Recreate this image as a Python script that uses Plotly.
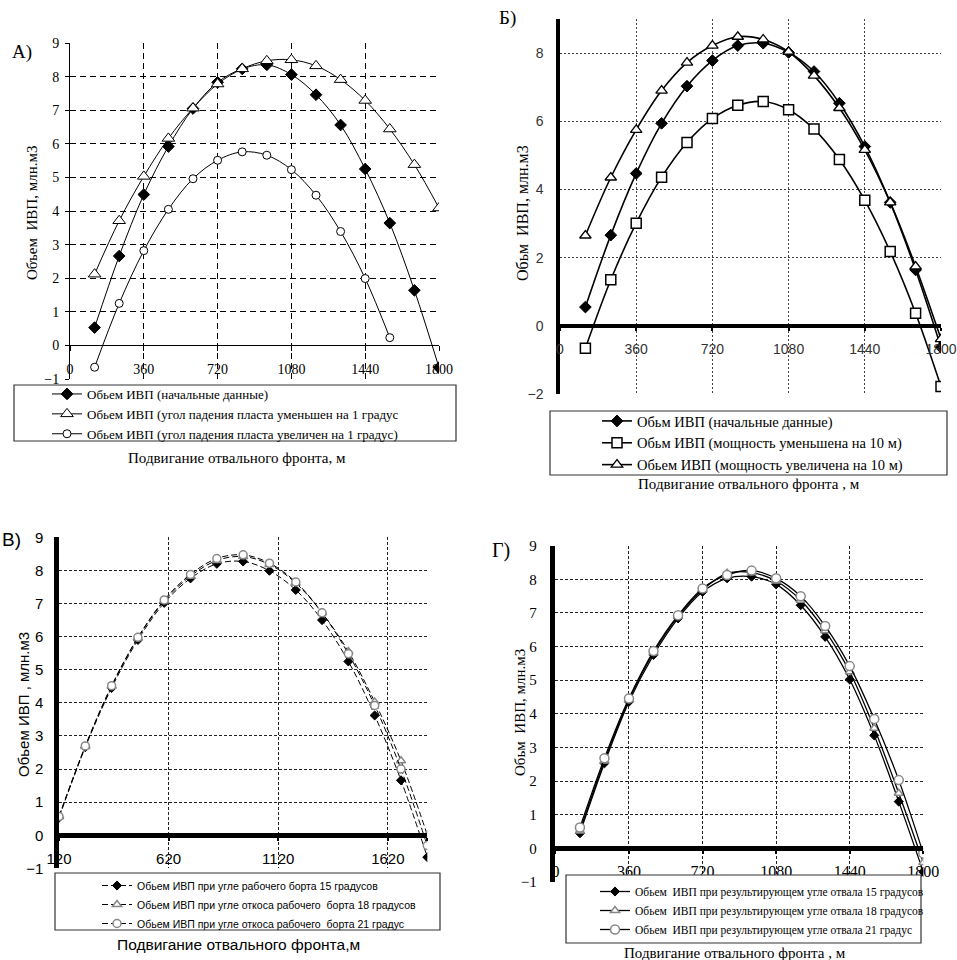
import plotly.graph_objects as go

W, H = 957, 960

def fx(px):
    return px / W

def fy(py):
    return 1 - py / H

# ---------------- data ----------------
x_adv = [120, 240, 360, 480, 600, 720, 840, 960, 1080, 1200, 1320, 1440, 1560, 1680, 1800]
x_adv_short = x_adv[:13]

# Panel A
a_initial = [0.53, 2.66, 4.49, 5.92, 7.05, 7.83, 8.23, 8.35, 8.06, 7.46, 6.56, 5.25, 3.64, 1.64, -0.66]
a_dip_minus1 = [2.12, 3.71, 5.03, 6.16, 7.06, 7.78, 8.23, 8.47, 8.50, 8.32, 7.91, 7.29, 6.44, 5.38, 4.09]
a_dip_plus1 = [-0.65, 1.25, 2.82, 4.05, 4.96, 5.51, 5.76, 5.66, 5.23, 4.47, 3.39, 1.99, 0.23]

# Panel Б
b_initial = [0.55, 2.66, 4.47, 5.94, 7.03, 7.78, 8.22, 8.29, 8.02, 7.46, 6.53, 5.26, 3.62, 1.64, -0.63]
b_thick_minus10 = [-0.66, 1.35, 3.01, 4.36, 5.38, 6.08, 6.47, 6.58, 6.34, 5.77, 4.88, 3.68, 2.18, 0.37, -1.78]
b_thick_plus10 = [2.65, 4.35, 5.75, 6.90, 7.72, 8.22, 8.48, 8.40, 8.04, 7.34, 6.39, 5.16, 3.62, 1.74, -0.39]

# Panel В
v_15 = [0.53, 2.66, 4.45, 5.90, 7.02, 7.76, 8.20, 8.27, 7.99, 7.41, 6.50, 5.25, 3.62, 1.66, -0.66]
v_18 = [0.56, 2.68, 4.50, 5.96, 7.08, 7.83, 8.30, 8.42, 8.18, 7.62, 6.72, 5.55, 4.03, 2.25, 0.01]
v_21 = [0.57, 2.70, 4.52, 5.98, 7.11, 7.88, 8.36, 8.47, 8.22, 7.65, 6.72, 5.48, 3.92, 2.00, -0.31]

# Panel Г
g_15 = [0.45, 2.53, 4.36, 5.75, 6.84, 7.63, 8.03, 8.08, 7.85, 7.23, 6.29, 5.02, 3.36, 1.39, -0.70]
g_18 = [0.52, 2.60, 4.42, 5.82, 6.90, 7.69, 8.18, 8.20, 7.95, 7.38, 6.47, 5.25, 3.57, 1.64, -0.42]
g_21 = [0.62, 2.68, 4.46, 5.87, 6.93, 7.73, 8.13, 8.26, 8.03, 7.50, 6.61, 5.42, 3.85, 2.03, -0.15]

# tick labels
ticks360 = [0, 360, 720, 1080, 1440, 1800]
v_xticks = [120, 620, 1120, 1620, 1800]
v_xticktext = ["120", "620", "1120", "1620", ""]

# ---------------- text ----------------
a_names = ["Обьем ИВП (начальные данные)",
           "Обьем ИВП (угол падения пласта уменьшен на 1 градус",
           "Обьем ИВП (угол падения пласта увеличен на 1 градус)"]
b_names = ["Обьм ИВП (начальные данные)",
           "Обьм ИВП (мощность уменьшена на 10 м)",
           "Обьем ИВП (мощность увеличена на 10 м)"]
v_names = ["Обьем ИВП при угле рабочего борта 15 градусов",
           "Обьем ИВП при угле откоса рабочего  борта 18 градусов",
           "Обьем ИВП при угле откоса рабочего  борта 21 градус"]
g_names = ["Обьем  ИВП при результирующем угле отвала 15 градусов",
           "Обьем  ИВП при результирующем угле отвала 18 градусов",
           "Обьем  ИВП при результирующем угле отвала 21 градус"]

SERIF = "Liberation Serif"
SANS = "Liberation Sans"

fig = go.Figure()

def add(xs, ys, name, xa, ya, leg, symbol, size, fill, lcol, lw=1, dash="solid", mline=1, mcol="black"):
    fig.add_trace(go.Scatter(
        x=xs, y=ys, name=name, xaxis=xa, yaxis=ya, legend=leg,
        mode="lines+markers",
        line=dict(color=lcol, width=lw, dash=dash, shape="spline", smoothing=1),
        marker=dict(symbol=symbol, size=size, color=fill, line=dict(color=mcol, width=mline)),
        cliponaxis=True,
    ))

# A
add(x_adv, a_initial, a_names[0], "x", "y", "legend", "diamond", 9, "black", "black")
add(x_adv, a_dip_minus1, a_names[1], "x", "y", "legend", "triangle-up", 11, "white", "black")
add(x_adv_short, a_dip_plus1, a_names[2], "x", "y", "legend", "circle", 8, "white", "black")
# Б
add(x_adv, b_initial, b_names[0], "x2", "y2", "legend2", "diamond", 9, "black", "black", lw=1.6)
add(x_adv, b_thick_minus10, b_names[1], "x2", "y2", "legend2", "square", 10, "white", "black", lw=1.6, mline=1.5)
add(x_adv, b_thick_plus10, b_names[2], "x2", "y2", "legend2", "triangle-up", 10, "white", "black", lw=1.6, mline=1.3)
# В
add(x_adv, v_15, v_names[0], "x3", "y3", "legend3", "diamond", 7, "black", "black", lw=1, dash="6px,3px")
add(x_adv, v_18, v_names[1], "x3", "y3", "legend3", "triangle-up", 8, "white", "black", lw=1, dash="6px,3px", mline=1.5, mcol="#888")
add(x_adv, v_21, v_names[2], "x3", "y3", "legend3", "circle", 8, "white", "black", lw=1, dash="6px,3px", mline=1.5, mcol="#888")
# Г
add(x_adv, g_15, g_names[0], "x4", "y4", "legend4", "diamond", 7, "black", "black", lw=1.3)
add(x_adv, g_18, g_names[1], "x4", "y4", "legend4", "triangle-up", 8, "white", "black", lw=1.3, mline=1.5, mcol="#888")
add(x_adv, g_21, g_names[2], "x4", "y4", "legend4", "circle", 9, "white", "black", lw=1.3, mline=1.5, mcol="#888")

def xaxis(dom, rng, tickvals, pos, lw, font, griddash, gridcolor, standoff, ticklen, tickwidth, ticktext=None):
    d = dict(domain=[fx(dom[0]), fx(dom[1])], range=rng, tickvals=tickvals,
             anchor="free", position=fy(pos), showline=True, linecolor="black", linewidth=lw,
             showgrid=True, gridcolor=gridcolor, gridwidth=1, griddash=griddash,
             zeroline=False, ticks="outside", ticklen=ticklen, tickwidth=tickwidth, tickcolor="black",
             tickfont=font, ticklabelstandoff=standoff, fixedrange=True, automargin=False)
    if ticktext is not None:
        d["ticktext"] = ticktext
    return d

def yaxis(xa, dom, rng, tickvals, lw, font, griddash, gridcolor, standoff, ticks=""):
    return dict(domain=[fy(dom[1]), fy(dom[0])], range=rng, tickvals=tickvals, anchor=xa,
                showline=True, linecolor="black", linewidth=lw,
                showgrid=True, gridcolor=gridcolor, gridwidth=1, griddash=griddash,
                zeroline=False, ticks=ticks, ticklen=4, tickcolor="black",
                tickfont=font, ticklabelstandoff=standoff, fixedrange=True, automargin=False)

fig.update_layout(
    width=W, height=H, margin=dict(l=0, r=0, t=0, b=0, autoexpand=False),
    paper_bgcolor="white", plot_bgcolor="white",
    showlegend=True,
    xaxis=xaxis((70, 439), [0, 1800], ticks360, 345, 1, dict(family=SERIF, size=14, color="black"),
                "6px,4px", "black", 6, 5, 1),
    yaxis=yaxis("x", (43, 379), [-1, 9], list(range(-1, 10)), 1, dict(family=SERIF, size=14, color="black"),
                "6px,4px", "black", 3, ticks="outside"),
    xaxis2=xaxis((560, 941), [0, 1800], ticks360, 326, 3.5, dict(family=SANS, size=14, color="#333"),
                 "2px,2px", "#444", 6, 3, 2),
    yaxis2=yaxis("x2", (19, 394), [-2, 9], [-2, 0, 2, 4, 6, 8], 3.5, dict(family=SANS, size=14, color="#333"),
                 "2px,2px", "#444", 10),
    xaxis3=xaxis((59, 427.3), [120, 1800], v_xticks, 835.3, 4.5, dict(family=SANS, size=15, color="black"),
                 "3px,2px", "#222", 5, 3, 2, ticktext=v_xticktext),
    yaxis3=yaxis("x3", (537.3, 868.4), [-1, 9], list(range(-1, 10)), 4.5, dict(family=SANS, size=15, color="black"),
                 "3px,2px", "#222", 8),
    xaxis4=xaxis((555.4, 923.3), [0, 1800], ticks360, 848.3, 4.5, dict(family=SERIF, size=16, color="black"),
                 "3px,2px", "#222", 4, 3, 2),
    yaxis4=yaxis("x4", (545.7, 882), [-1, 9], list(range(-1, 10)), 4.5, dict(family=SERIF, size=15, color="black"),
                 "3px,2px", "#222", 11),
    legend=dict(x=fx(47), y=fy(379), xanchor="left", yanchor="top", bgcolor="rgba(0,0,0,0)",
                borderwidth=0, font=dict(family=SERIF, size=13, color="black"), tracegroupgap=0),
    legend2=dict(x=fx(597), y=fy(405), xanchor="left", yanchor="top", bgcolor="rgba(0,0,0,0)",
                 borderwidth=0, font=dict(family=SERIF, size=14.5, color="black"), tracegroupgap=0),
    legend3=dict(x=fx(97), y=fy(871), xanchor="left", yanchor="top", bgcolor="rgba(0,0,0,0)",
                 borderwidth=0, font=dict(family=SANS, size=10.5, color="black"), tracegroupgap=0),
    legend4=dict(x=fx(595), y=fy(877), xanchor="left", yanchor="top", bgcolor="rgba(0,0,0,0)",
                 borderwidth=0, font=dict(family=SERIF, size=11.5, color="black"), tracegroupgap=0),
)

# legend frames (white-filled, like the reference boxes that hide what lies below)
for (x0, y0, x1, y1) in [(14, 385, 456, 441), (550, 411, 947, 475), (55, 873, 440, 930), (566, 875, 921, 943)]:
    fig.add_shape(type="rect", xref="paper", yref="paper", x0=fx(x0), x1=fx(x1), y0=fy(y1), y1=fy(y0),
                  line=dict(color="#333", width=1.2), fillcolor="white", layer="above")

def note(text, x, y, family, size, angle=0):
    fig.add_annotation(text=text, x=fx(x), y=fy(y), xref="paper", yref="paper", showarrow=False,
                       xanchor="center", yanchor="middle", textangle=angle,
                       font=dict(family=family, size=size, color="black"))

# panel labels
note("А)", 22, 52, SERIF, 19)
note("Б)", 507, 18, SERIF, 19)
note("В)", 11, 539, SANS, 19)
note("Г)", 501, 550, SERIF, 20)

# y titles
note("Объем  ИВП, млн.м3", 32, 213, SERIF, 15, -90)
note("Обьм  ИВП, млн.м3", 522, 213, SERIF, 16, -90)
note("Обьем ИВП , млн.м3", 23, 705, SANS, 15, -90)
note("Обьм  ИВП, млн.м3", 520, 713, SERIF, 15, -90)

# x titles
note("Подвигание отвального фронта, м", 237, 458, SERIF, 15)
note("Подвигание отвального фронта , м", 749, 484, SERIF, 15)
note("Подвигание отвального фронта,м", 238, 944, SANS, 15.5)
note("Подвигание отвального фронта , м", 735, 953, SERIF, 15)

fig.write_html("out.html", config={"displayModeBar": False},
               post_script="document.body.style.margin='0';document.body.style.overflow='hidden';")
